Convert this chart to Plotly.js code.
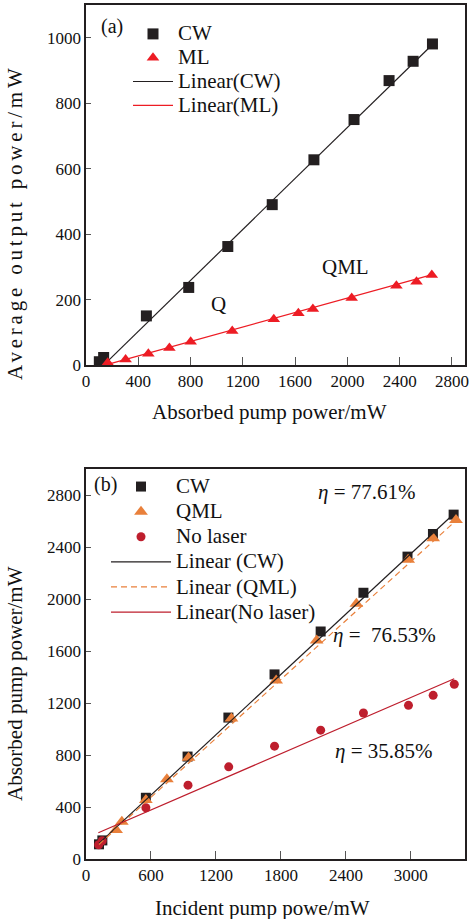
<!DOCTYPE html>
<html>
<head>
<meta charset="utf-8">
<script src="https://cdn.plot.ly/plotly-3.0.1.min.js"></script>
<style>html,body{margin:0;padding:0;background:#fff;}#chart{width:474px;height:919px;}</style>
</head>
<body>
<div id="chart"></div>
<script>
// ---------- Panel (a) data ----------
const aCwX = [102, 135, 462, 786, 1085, 1425, 1744, 2051, 2319, 2503, 2651];
const aCwY = [10, 23, 150, 237, 362, 490, 627, 750, 869, 928, 981];
const aMlX = [166, 303, 477, 638, 801, 1119, 1437, 1625, 1736, 2033, 2375, 2529, 2646];
const aMlY = [7, 17, 34, 52, 71, 104, 140, 158, 171, 205, 242, 254, 275];
const aFitCwX = [149, 2655];
const aFitCwY = [5, 981];
const aFitMlX = [166, 2656];
const aFitMlY = [2, 277];
const aXTicks = [0, 400, 800, 1200, 1600, 2000, 2400, 2800];
const aYTicks = [0, 200, 400, 600, 800, 1000];

// ---------- Panel (b) data ----------
const bCwX = [120, 151, 553, 938, 1315, 1741, 2167, 2562, 2969, 3204, 3395];
const bCwY = [113, 143, 471, 788, 1088, 1420, 1750, 2048, 2326, 2500, 2649];
const bQmlX = [278, 331, 553, 747, 947, 1343, 1756, 2130, 2497, 2975, 3206, 3417];
const bQmlY = [223, 286, 453, 614, 778, 1080, 1374, 1681, 1963, 2301, 2467, 2608];
const bNoX = [117, 150, 553, 942, 1318, 1741, 2167, 2562, 2978, 3206, 3401];
const bNoY = [110, 140, 394, 568, 709, 868, 991, 1123, 1182, 1259, 1344];
const bFitCwX = [120, 3395];
const bFitCwY = [120, 2654];
const bFitQmlX = [120, 3417];
const bFitQmlY = [112, 2603];
const bFitNoX = [114, 3400];
const bFitNoY = [202, 1387];
const bXTicks = [0, 600, 1200, 1800, 2400, 3000];
const bYTicks = [0, 400, 800, 1200, 1600, 2000, 2400, 2800];

const serif = 'Liberation Serif, Times New Roman, serif';
const ink = '#231f20';
const cRed = '#ed1c24';
const cOrange = '#e9803b';
const cDarkRed = '#be1e2d';

function lbl(t) { return '<span style="font-size:21px">' + t + '</span>'; }

const traces = [
  // panel (a)
  {x: aFitCwX, y: aFitCwY, mode: 'lines', line: {color: ink, width: 1.2}, name: lbl('Linear(CW)'), legend: 'legend', legendrank: 3, xaxis: 'x', yaxis: 'y'},
  {x: aFitMlX, y: aFitMlY, mode: 'lines', line: {color: cRed, width: 1.2}, name: lbl('Linear(ML)'), legend: 'legend', legendrank: 4, xaxis: 'x', yaxis: 'y'},
  {x: aCwX, y: aCwY, mode: 'markers', marker: {symbol: 'square', size: 11, color: ink}, name: lbl('CW'), legend: 'legend', legendrank: 1, xaxis: 'x', yaxis: 'y'},
  {x: aMlX, y: aMlY, mode: 'markers', marker: {symbol: 'triangle-up', size: 11, color: cRed}, name: lbl('ML'), legend: 'legend', legendrank: 2, xaxis: 'x', yaxis: 'y'},
  // panel (b)
  {x: bCwX, y: bCwY, mode: 'markers', marker: {symbol: 'square', size: 10, color: ink}, name: lbl('CW'), legend: 'legend2', legendrank: 1, xaxis: 'x2', yaxis: 'y2'},
  {x: bQmlX, y: bQmlY, mode: 'markers', marker: {symbol: 'triangle-up', size: 12, color: cOrange}, name: lbl('QML'), legend: 'legend2', legendrank: 2, xaxis: 'x2', yaxis: 'y2'},
  {x: bNoX, y: bNoY, mode: 'markers', marker: {symbol: 'circle', size: 9, color: cDarkRed}, name: lbl('No laser'), legend: 'legend2', legendrank: 3, xaxis: 'x2', yaxis: 'y2'},
  {x: bFitCwX, y: bFitCwY, mode: 'lines', line: {color: ink, width: 1.2}, name: lbl('Linear (CW)'), legend: 'legend2', legendrank: 4, xaxis: 'x2', yaxis: 'y2'},
  {x: bFitQmlX, y: bFitQmlY, mode: 'lines', line: {color: cOrange, width: 1.2, dash: '6px,4px'}, name: lbl('Linear (QML)'), legend: 'legend2', legendrank: 5, xaxis: 'x2', yaxis: 'y2'},
  {x: bFitNoX, y: bFitNoY, mode: 'lines', line: {color: cDarkRed, width: 1.2}, name: lbl('Linear(No laser)'), legend: 'legend2', legendrank: 6, xaxis: 'x2', yaxis: 'y2'}
];

const W = 474, H = 919;
const px = v => v / W;
const py = v => 1 - v / H;

function xax(range, ticks, domain, anchor) {
  return {
    domain: domain, anchor: anchor, range: range, tickmode: 'array', tickvals: ticks,
    ticktext: ticks.map(String), ticks: 'inside', ticklen: 8, tickwidth: 1, tickcolor: '#555',
    showline: true, mirror: true, linecolor: ink, linewidth: 1.6, showgrid: false, zeroline: false,
    tickfont: {family: serif, size: 17, color: '#111'}, fixedrange: true
  };
}
function yax(range, ticks, domain, anchor) {
  return {
    domain: domain, anchor: anchor, range: range, tickmode: 'array', tickvals: ticks,
    ticktext: ticks.map(String), ticks: 'inside', ticklen: 5, tickwidth: 1, tickcolor: '#555',
    showline: true, mirror: true, linecolor: ink, linewidth: 1.6, showgrid: false, zeroline: false,
    tickfont: {family: serif, size: 17, color: '#111'}, fixedrange: true
  };
}

const txt = (size) => ({family: serif, size: size || 21, color: '#111'});
const C = {xanchor: 'center', yanchor: 'middle', showarrow: false};

const layout = {
  width: W, height: H,
  margin: {l: 0, r: 0, t: 0, b: 0},
  paper_bgcolor: '#fff', plot_bgcolor: '#fff',
  font: {family: serif},
  showlegend: true,
  xaxis: xax([0, 2900], aXTicks, [px(86), px(465)], 'y'),
  yaxis: yax([0, 1100], aYTicks, [py(365), py(5)], 'x'),
  xaxis2: xax([0, 3500], bXTicks, [px(86), px(465)], 'y2'),
  yaxis2: yax([0, 3000], bYTicks, [py(859), py(469)], 'x2'),
  legend: {x: px(128), y: py(17), xanchor: 'left', yanchor: 'top', bgcolor: 'rgba(0,0,0,0)', itemwidth: 40,
           font: {family: serif, size: 16, color: '#111'}, traceorder: 'normal'},
  legend2: {x: px(106), y: py(469), xanchor: 'left', yanchor: 'top', bgcolor: 'rgba(0,0,0,0)', itemwidth: 60,
           font: {family: serif, size: 17, color: '#111'}, traceorder: 'normal'},
  annotations: [
    Object.assign({xref: 'x', yref: 'y', x: 199, y: 1034, text: '(a)', font: txt(20)}, C),
    Object.assign({xref: 'x', yref: 'y', x: 1987, y: 300, text: 'QML', font: txt()}, C),
    Object.assign({xref: 'x', yref: 'y', x: 1016, y: 185, text: 'Q', font: txt()}, C),
    Object.assign({xref: 'paper', yref: 'paper', x: px(269), y: py(412), text: 'Absorbed pump power/mW', font: txt()}, C),
    Object.assign({xref: 'paper', yref: 'paper', x: px(15), y: py(222), text: '<span style="letter-spacing:3.8px">Average output power/mW</span>', textangle: -90, font: txt()}, C),
    Object.assign({xref: 'x2', yref: 'y2', x: 176, y: 2884, text: '(b)', font: txt(20)}, C),
    Object.assign({xref: 'x2', yref: 'y2', x: 2599, y: 2820, text: '<i>η</i> = 77.61%', font: txt()}, C),
    Object.assign({xref: 'x2', yref: 'y2', x: 2753, y: 1720, text: '<i>η</i> =  76.53%', font: txt()}, C),
    Object.assign({xref: 'x2', yref: 'y2', x: 2753, y: 831, text: '<i>η</i> = 35.85%', font: txt()}, C),
    Object.assign({xref: 'paper', yref: 'paper', x: px(262), y: py(908), text: 'Incident pump powe/mW', font: txt()}, C),
    Object.assign({xref: 'paper', yref: 'paper', x: px(15), y: py(684), text: 'Absorbed pump power/mW', textangle: -90, font: txt()}, C)
  ]
};

Plotly.newPlot('chart', traces, layout, {displayModeBar: false, staticPlot: true});
</script>
</body>
</html>
